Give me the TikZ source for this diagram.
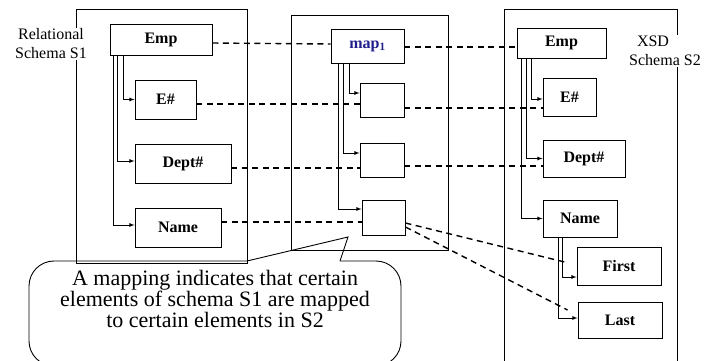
\documentclass[tikz,border=0pt]{standalone}
\usepackage{fontspec}
\setmainfont{Liberation Serif}
\usepackage{xcolor}

\definecolor{mapblue}{RGB}{32,32,140}

\tikzset{
  box/.style={draw, line width=0.9pt, inner sep=0pt, font=\fontsize{16}{16}\selectfont\bfseries},
  panel/.style={draw, line width=0.9pt, inner sep=0pt},
  tree/.style={->, line width=0.8pt},
  link/.style={line width=1.4pt, dash pattern=on 6pt off 4.5pt},
}

\begin{document}
\begin{tikzpicture}[x=1pt, y=-1pt, >=latex]
    \useasboundingbox (0,0) rectangle (713,360);
    \clip (0,0) rectangle (713,360);

    % the three schemas
    \node[panel, minimum width=171pt, minimum height=254pt] (s1) at (161.5, 136) {};
    \node[panel, minimum width=157pt, minimum height=235pt] (mp) at (369.5, 132.5) {};
    \node[panel, minimum width=173pt, minimum height=381pt] (s2) at (590.5, 199.5) {};

    \node[fill=white, inner sep=1pt, align=center, font=\fontsize{16}{19}\selectfont] (s1lab) at (51, 44) {Relational\\ Schema S1};
    \node[fill=white, inner sep=1pt, align=center, font=\fontsize{16}{19}\selectfont] (s2lab) at (665, 51) {XSD\hspace*{24pt}\\ Schema S2};

    % relational schema S1
    \node[box, minimum width=102pt, minimum height=31pt] (emp) at (161, 39.5) {Emp};
    \node[box, minimum width=61pt, minimum height=39pt] (eno) at (165.5, 99.5) {E\#};
    \node[box, minimum width=96pt, minimum height=39pt] (dept) at (183, 163.5) {Dept\#};
    \node[box, minimum width=86pt, minimum height=39pt] (name) at (178, 227.5) {Name};

    \draw [tree] ([xshift=14pt]emp.south west) |- (eno);
    \draw [tree] ([xshift=8pt]emp.south west) |- ([yshift=2.5pt]dept.west);
    \draw [tree] ([xshift=3.5pt]emp.south west) |- ([yshift=2.5pt]name.west);

    % mapping
    \node[box, minimum width=73pt, minimum height=34pt] (map) at (367.5, 46) {\color{mapblue}map\textsubscript{1}};
    \node[box, minimum width=44pt, minimum height=34pt] (m1) at (382, 100) {};
    \node[box, minimum width=44pt, minimum height=34pt] (m2) at (382, 160) {};
    \node[box, minimum width=43pt, minimum height=35pt] (m3) at (383.5, 217.5) {};

    \draw [tree] ([xshift=19pt]map.south west) |- ([yshift=7pt]m1.west);
    \draw [tree] ([xshift=13pt]map.south west) |- ([yshift=7pt]m2.west);
    \draw [tree] ([xshift=8pt]map.south west) |- ([yshift=8.5pt]m3.west);

    % XSD schema S2
    \node[box, minimum width=89pt, minimum height=30pt] (xemp) at (561.5, 43) {Emp};
    \node[box, minimum width=53pt, minimum height=38pt] (xeno) at (569.5, 97) {E\#};
    \node[box, minimum width=82pt, minimum height=37pt] (xdept) at (584, 158.5) {Dept\#};
    \node[box, minimum width=74pt, minimum height=37pt] (xname) at (580, 218.5) {Name};
    \node[box, minimum width=84pt, minimum height=38pt] (first) at (619, 266) {First};
    \node[box, minimum width=84pt, minimum height=36pt] (last) at (620, 320) {Last};

    \draw [tree] ([xshift=15pt]xemp.south west) |- ([yshift=-2pt]xeno.west);
    \draw [tree] ([xshift=10pt]xemp.south west) |- (xdept);
    \draw [tree] ([xshift=5pt]xemp.south west) |- (xname);
    \draw [tree] ([xshift=20pt]xname.south west) |- ([yshift=-11pt]first.west);
    \draw [tree] ([xshift=16pt]xname.south west) |- ([yshift=2pt]last.west);

    % correspondences
    \draw [link] ([yshift=-3.5pt]emp.east) -- ([yshift=2pt]map.west);
    \draw [link] ([yshift=-1pt]map.east) -- ([yshift=-4pt]xemp.west);
    \draw [link] ([yshift=-4.5pt]eno.east) -- ([yshift=-4pt]m1.west);
    \draw [link] ([yshift=-8pt]m1.east) -- ([yshift=-11pt]xeno.west);
    \draw [link] ([yshift=-4.5pt]dept.east) -- ([yshift=-8pt]m2.west);
    \draw [link] ([yshift=-6pt]m2.east) -- ([yshift=-7.5pt]xdept.west);
    \draw [link] ([yshift=5.5pt]name.east) -- ([yshift=-4.5pt]m3.west);
    \draw [link] ([yshift=-5.5pt]m3.east) -- ([xshift=-12pt, yshift=4pt]first.west);
    \draw [link] ([yshift=-9.5pt]m3.east) -- ([xshift=-10pt, yshift=10pt]last.west);

    % callout
    \coordinate (tip) at (348, 237);
    \draw [line width=0.9pt, rounded corners=25pt] (340, 261) -- (401, 261) -- (401, 366) -- (29, 366) -- (29, 261) -- (247, 261);
    \draw [line width=0.9pt] (247, 261) -- (tip) -- (340, 261);
    \node[align=center, font=\fontsize{22}{19.5}\selectfont] (note) at (215, 299) {A mapping indicates that certain\\ elements of schema S1 are mapped\\ to certain elements in S2};

\end{tikzpicture}
\end{document}
